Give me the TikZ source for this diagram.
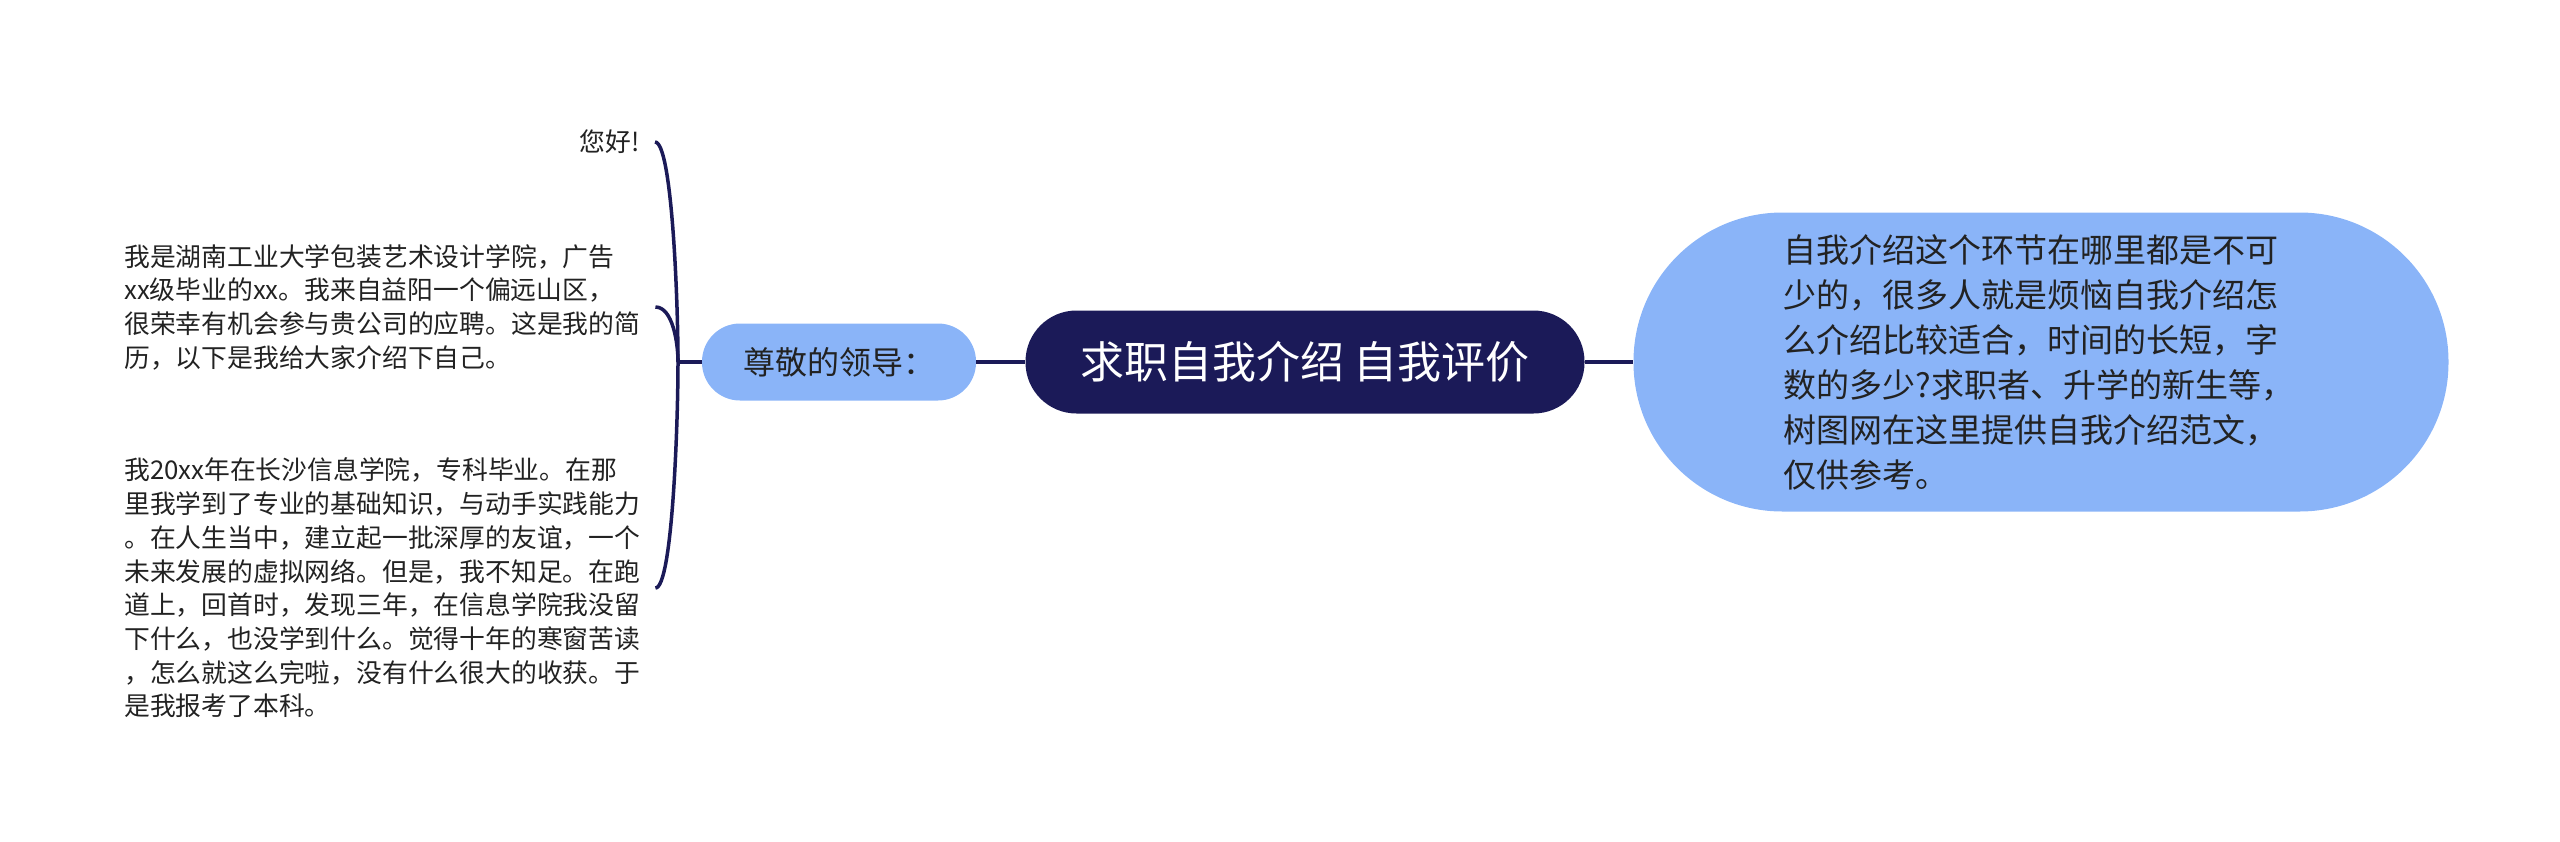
\documentclass[tikz,border=0pt]{standalone}
\usepackage{fontspec}
\setmainfont{Noto Sans CJK SC}
\definecolor{navy}{HTML}{1B1A58}
\definecolor{sky}{HTML}{8AB4F8}
\definecolor{ink}{HTML}{222222}
\tikzset{
  topic/.style={fill=navy, text=white, rounded corners=51pt,
    minimum width=559pt, minimum height=103pt, font=\fontsize{44}{52}\selectfont},
  sub/.style={fill=sky, text=ink, rounded corners=38pt,
    minimum width=274pt, minimum height=77pt, font=\fontsize{32}{40}\selectfont},
  detail/.style={fill=sky, text=ink, rounded corners=149pt,
    minimum width=815pt, minimum height=299pt, text width=515pt, align=left,
    inner xsep=0pt, font=\fontsize{33}{45}\selectfont},
  leaf/.style={text=ink, inner sep=0pt, font=\fontsize{25.8}{33.7}\selectfont},
  link/.style={draw=navy, line width=3.5pt}
}
\begin{document}
\begin{tikzpicture}[x=1pt,y=-1pt]
  \useasboundingbox (0,0) rectangle (2560,841);
  \node[topic] (topic) at (1305,362) {求职自我介绍 自我评价};
  \node[sub] (greet) at (839,362) {尊敬的领导：};
  \node[detail] (intro) at (2041,362) {自我介绍这个环节在哪里都是不可\\
    少的，很多人就是烦恼自我介绍怎\\
    么介绍比较适合，时间的长短，字\\
    数的多少?求职者、升学的新生等，\\
    树图网在这里提供自我介绍范文，\\
    仅供参考。};
  \node[leaf, anchor=east] (hello) at (640,142) {您好!};
  \node[leaf, anchor=west, text width=516pt, align=left] (resume) at (124,307)
    {我是湖南工业大学包装艺术设计学院，广告\\
    xx级毕业的xx。我来自益阳一个偏远山区，\\
    很荣幸有机会参与贵公司的应聘。这是我的简\\
    历，以下是我给大家介绍下自己。};
  \node[leaf, anchor=west, text width=516pt, align=left] (study) at (124,588)
    {我20xx年在长沙信息学院，专科毕业。在那\\
    里我学到了专业的基础知识，与动手实践能力\\
    。在人生当中，建立起一批深厚的友谊，一个\\
    未来发展的虚拟网络。但是，我不知足。在跑\\
    道上，回首时，发现三年，在信息学院我没留\\
    下什么，也没学到什么。觉得十年的寒窗苦读\\
    ，怎么就这么完啦，没有什么很大的收获。于\\
    是我报考了本科。};
  \coordinate (hub) at (678,362);
  \begin{scope}[link]
    \draw (greet) to (topic);
    \draw (topic) to (intro);
    \draw (greet.west) to (hub);
    \draw (hub) .. controls ([yshift=62pt]hub) and ([xshift=32pt]hello.east) .. ([xshift=15pt]hello.east);
    \draw (hub) .. controls ([yshift=20pt]hub) and ([xshift=32pt]resume.east) .. ([xshift=15pt]resume.east);
    \draw (hub) .. controls ([yshift=-62pt]hub) and ([xshift=32pt]study.east) .. ([xshift=15pt]study.east);
  \end{scope}
\end{tikzpicture}
\end{document}
